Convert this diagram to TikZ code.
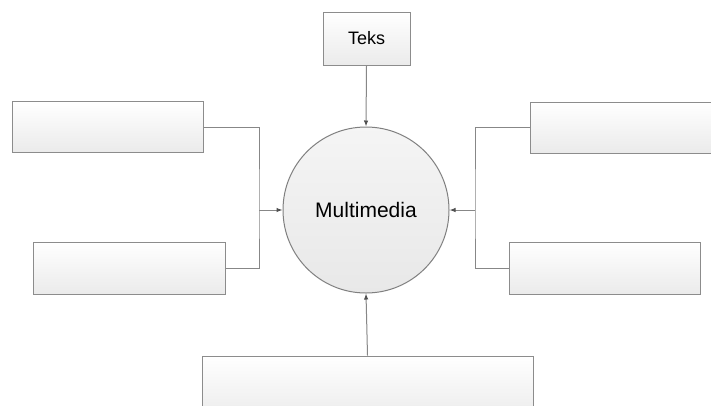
\documentclass[tikz,border=0pt]{standalone}
\usepackage{fontspec}
\setmainfont{Liberation Sans}
\usetikzlibrary{arrows.meta}
\definecolor{edgegray}{RGB}{140,140,140}
\definecolor{linegray}{RGB}{135,135,135}
\definecolor{tipgray}{RGB}{80,80,80}
\tikzset{
  boxnode/.style={draw=edgegray, line width=1pt, rectangle, top color=white, bottom color=black!8, inner sep=0pt},
  hubnode/.style={draw=black!50, line width=1pt, circle, top color=black!4, bottom color=black!9, inner sep=0pt, minimum size=166pt, font=\fontsize{21}{24}\selectfont},
  conn/.style={draw=linegray, line width=1pt},
  arr/.style={conn, -{Latex[length=6pt,width=4.5pt,fill=tipgray,color=tipgray]}}
}
\begin{document}
\begin{tikzpicture}[x=1pt,y=-1pt]
\useasboundingbox (0,0) rectangle (711,405);
\clip (0,0) rectangle (711,405);
\fill[white] (0,0) rectangle (711,405);
\node[hubnode] (mm) at (366,210) {Multimedia};
\node[boxnode, minimum width=87pt, minimum height=53pt, font=\fontsize{18}{20}\selectfont] (teks) at (366.5,38.5) {Teks};
\node[boxnode, minimum width=191pt, minimum height=51pt] (tl) at (107.5,127) {};
\node[boxnode, minimum width=192pt, minimum height=52pt] (bl) at (129,268) {};
\node[boxnode, minimum width=190pt, minimum height=51pt] (tr) at (625,127.5) {};
\node[boxnode, minimum width=191pt, minimum height=52pt] (br) at (604.5,268) {};
\node[boxnode, minimum width=331pt, minimum height=64pt] (bot) at (367.5,388) {};
\coordinate (jl) at (259,210);
\coordinate (jr) at (475,210);
\draw[arr] (teks.south) -- (mm.north);
\draw[arr] (bot.north) -- (mm.south);
\draw[conn] (tl.east) -| (jl) |- (bl.east);
\draw[conn] (tr.west) -| (jr) |- (br.west);
\draw[arr] (jl) -- (mm.west);
\draw[arr] (jr) -- (mm.east);
\end{tikzpicture}
\end{document}
